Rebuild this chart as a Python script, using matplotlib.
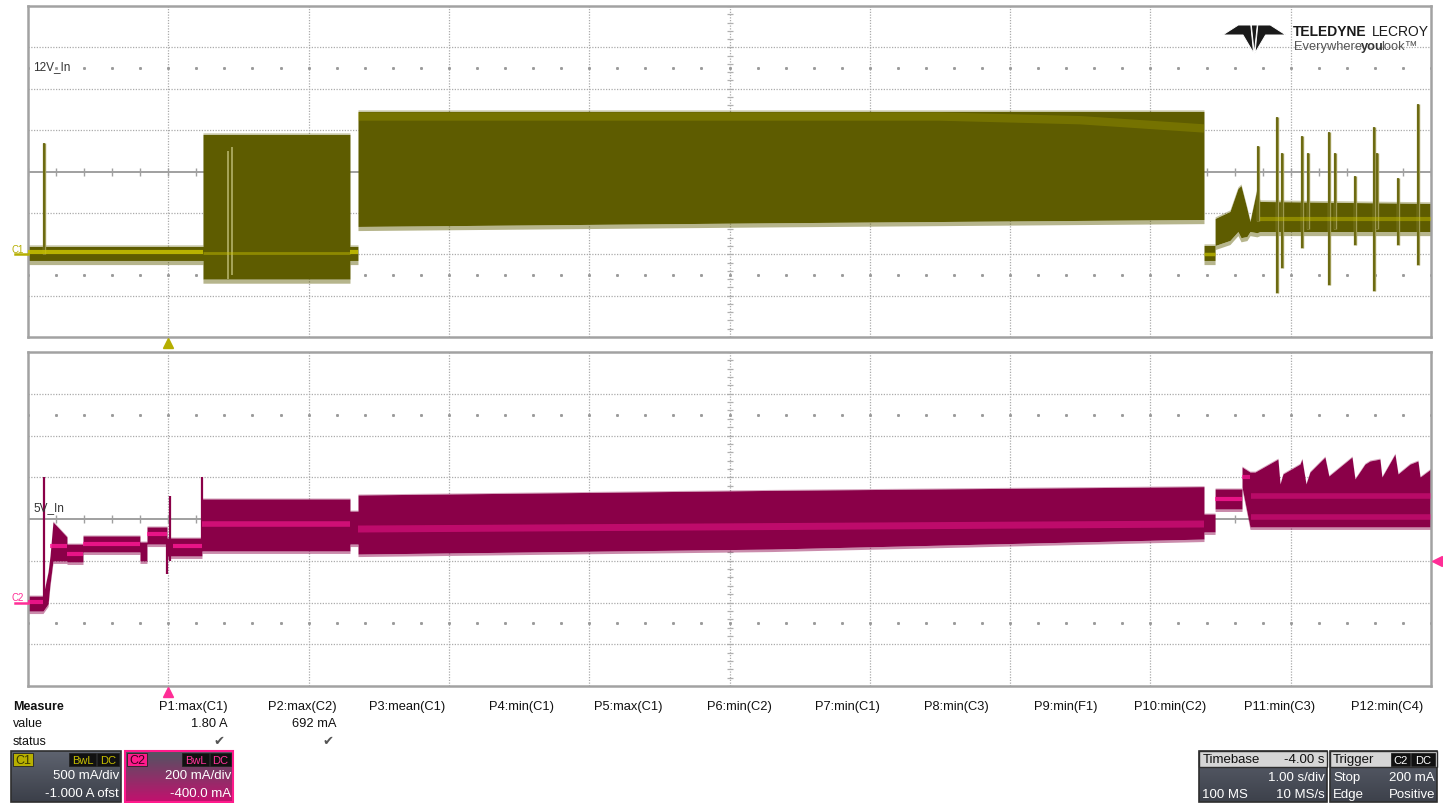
import numpy as np
import matplotlib
matplotlib.use("Agg")
import matplotlib.pyplot as plt
import matplotlib.colors as mcolors
import matplotlib.transforms as mtrans
from matplotlib.patches import Rectangle, Polygon

plt.rcParams['font.family'] = ['Liberation Sans', 'DejaVu Sans']

# time axis: 1.00 s/div, delay -4.00 s
T_MIN, T_MAX = -1.0, 9.0

# C1 (12V_In), 500 mA/div, -1.000 A ofst -> envelope in A
c1_t = [-1.0, 0.247, 0.247, 1.295, 1.295, 1.352, 1.352, 4.3, 7.382, 7.382, 7.461,
        7.461, 7.567, 7.624, 7.646, 7.688, 7.710, 7.760, 7.781, 9.0]
c1_hi = [0.094, 0.094, 1.447, 1.447, 0.094, 0.094, 1.725, 1.725, 1.725, 0.106, 0.106,
         0.432, 0.517, 0.795, 0.83, 0.553, 0.396, 0.795, 0.638, 0.614]
c1_lo = [-0.075, -0.075, -0.30, -0.30, -0.075, -0.075, 0.336, 0.38, 0.42, -0.075, -0.075,
         0.106, 0.167, 0.275, 0.20, 0.215, 0.275, 0.26, 0.275, 0.275]

# bright traces inside C1 envelope (t, value, line width, alpha)
c1_glow_t = [[-1.0, 0.247], [0.247, 1.295], [1.295, 1.352], [1.352, 5.5, 6.5, 7.382],
             [7.382, 7.461], [7.781, 9.0]]
c1_glow_v = [[0.03, 0.03], [0.01, 0.01], [0.03, 0.03], [1.664, 1.664, 1.62, 1.52],
             [0.0, 0.0], [0.432, 0.432]]
c1_glow_w = [3.0, 2.0, 3.0, 6.0, 2.5, 3.0]
c1_glow_a = [0.85, 0.45, 0.85, 0.22, 0.7, 0.45]

# C1 spikes
c1_spk_t = [-0.886, 7.767, 7.903, 7.938, 8.081, 8.123, 8.273, 8.316, 8.458, 8.594, 8.615, 8.765, 8.907]
c1_spk_hi = [1.34, 1.31, 1.66, 1.22, 1.43, 1.22, 1.48, 1.22, 0.95, 1.54, 1.22, 0.92, 1.82]
c1_spk_lo = [0.0, 0.40, -0.47, -0.17, 0.07, 0.30, -0.37, 0.30, 0.11, -0.45, 0.30, 0.11, -0.13]
# light gaps inside the burst
c1_gap_t = [0.425, 0.454]
c1_gap_lo = [-0.30, -0.25]
c1_gap_hi = [1.25, 1.30]

# C2 (5V_In), 200 mA/div, -400.0 mA ofst
c2_t = [-1.0, -0.893, -0.857, -0.843, -0.822, -0.722, -0.722, -0.608, -0.608, -0.202,
        -0.202, -0.152, -0.152, -0.009, -0.009, 0.033, 0.033, 0.240, 0.240, 1.295,
        1.295, 1.352, 1.352, 4.3, 7.382, 7.382, 7.461, 7.461, 7.653, 7.653, 7.710,
        7.746, 7.909, 7.924, 7.945, 8.066, 8.080, 8.109, 8.137, 8.244, 8.272, 8.437,
        8.458, 8.529, 8.565, 8.636, 8.650, 8.743, 8.765, 8.850, 8.907, 8.922, 9.0]
c2_hi = [0.031, 0.031, 0.146, 0.223, 0.386, 0.314, 0.280, 0.280, 0.319, 0.319,
         0.290, 0.290, 0.362, 0.362, 0.309, 0.309, 0.309, 0.309, 0.496, 0.496,
         0.438, 0.438, 0.515, 0.537, 0.555, 0.424, 0.424, 0.544, 0.544, 0.649, 0.625,
         0.625, 0.687, 0.568, 0.616, 0.663, 0.687, 0.568, 0.625, 0.697, 0.606, 0.697,
         0.592, 0.663, 0.678, 0.687, 0.601, 0.711, 0.616, 0.663, 0.678, 0.601, 0.640]
c2_lo = [-0.041, -0.041, -0.007, 0.089, 0.199, 0.199, 0.194, 0.194, 0.242, 0.242,
         0.199, 0.199, 0.280, 0.280, 0.223, 0.223, 0.223, 0.223, 0.247, 0.247,
         0.280, 0.280, 0.232, 0.256, 0.304, 0.338, 0.338, 0.448, 0.448, 0.553, 0.362,
         0.362, 0.362, 0.362, 0.362, 0.362, 0.362, 0.362, 0.362, 0.362, 0.362, 0.362,
         0.362, 0.362, 0.362, 0.362, 0.362, 0.362, 0.362, 0.362, 0.362, 0.362, 0.362]

c2_glow_t = [[-1.0, -0.893], [-0.843, -0.722], [-0.722, -0.608], [-0.608, -0.202],
             [-0.152, -0.009], [0.033, 0.240], [0.240, 1.295], [1.352, 7.382],
             [7.461, 7.653], [7.653, 7.710], [7.72, 9.0], [7.72, 9.0]]
c2_glow_v = [[0.0025, 0.0025], [0.271, 0.271], [0.232, 0.232], [0.280, 0.280],
             [0.328, 0.328], [0.271, 0.271], [0.376, 0.376], [0.352, 0.376],
             [0.496, 0.496], [0.60, 0.60], [0.51, 0.51], [0.41, 0.41]]
c2_glow_w = [3, 3, 3, 3, 3, 3, 4, 5, 3, 3, 4, 4]
c2_glow_a = [0.8, 0.8, 0.8, 0.8, 0.8, 0.8, 0.6, 0.45, 0.8, 0.7, 0.4, 0.4]

c2_spk_t = [-0.886, -0.009, 0.012, 0.240]
c2_spk_hi = [0.60, 0.30, 0.510, 0.60]
c2_spk_lo = [0.0, 0.137, 0.20, 0.25]

# measurement table
meas_names = ["P1:max(C1)", "P2:max(C2)", "P3:mean(C1)", "P4:min(C1)", "P5:max(C1)",
              "P6:min(C2)", "P7:min(C1)", "P8:min(C3)", "P9:min(F1)", "P10:min(C2)",
              "P11:min(C3)", "P12:min(C4)"]
meas_values = ["1.80 A", "692 mA", "", "", "", "", "", "", "", "", "", ""]
meas_status = ["\u2714", "\u2714", "", "", "", "", "", "", "", "", "", ""]

C1_DARK, C1_GLOW, C1_LBL = '#5e5c00', '#c9c200', '#b5ae00'
C2_DARK, C2_GLOW, C2_LBL = '#8a0048', '#ff1a96', '#ff2d96'
GRID = '#ababab'

fig = plt.figure(figsize=(14.43, 8.04), dpi=100)
ax1 = fig.add_axes([28 / 1443, 1 - 338 / 804, 1403 / 1443, 331 / 804])
ax2 = fig.add_axes([28 / 1443, 1 - 687 / 804, 1403 / 1443, 334 / 804])


def setup_panel(ax, ylo, yhi):
    ax.set_xlim(T_MIN, T_MAX)
    ax.set_ylim(ylo, yhi)
    div = (yhi - ylo) / 8
    center = (yhi + ylo) / 2
    for x in np.arange(T_MIN + 1, T_MAX, 1.0):
        ax.axvline(x, color=GRID, lw=0.9, ls=(0, (1, 1.2)), zorder=0)
    for y in np.arange(1, 8) * div + ylo:
        if abs(y - center) > 1e-9:
            ax.axhline(y, color=GRID, lw=0.9, ls=(0, (1, 1.2)), zorder=0)
    ax.axhline(center, color='#a0a0a0', lw=1.4, zorder=0)
    xs = np.arange(T_MIN, T_MAX + 1e-9, 0.2)
    ax.plot(xs, [center] * len(xs), ls='none', marker='|', ms=6, mew=1.0, color='#a0a0a0', zorder=0)
    ys = np.arange(ylo, yhi + 1e-9, div / 5)
    tc = (T_MIN + T_MAX) / 2
    ax.plot([tc] * len(ys), ys, ls='none', marker='_', ms=5, mew=0.9, color='#b0b0b0', zorder=0)
    for yd in (center - 2.5 * div, center + 2.5 * div):
        ax.plot(xs, [yd] * len(xs), ls='none', marker='s', ms=1.1, color='#9a9a9a', zorder=0)
    for s in ax.spines.values():
        s.set_color('#a2a2a2')
        s.set_linewidth(1.8)
    ax.set_xticks([])
    ax.set_yticks([])


def draw_trace(ax, t, lo, hi, dark, fuzz):
    t, lo, hi = np.array(t), np.array(lo), np.array(hi)
    ax.fill_between(t, lo, hi, color=dark, lw=0, zorder=2)
    # soft edges
    ax.fill_between(t, lo - fuzz, lo, color=dark, alpha=0.45, lw=0, zorder=2)
    ax.fill_between(t, hi, hi + fuzz * 0.4, color=dark, alpha=0.35, lw=0, zorder=2)


setup_panel(ax1, -1.0, 3.0)
setup_panel(ax2, -0.4, 1.2)

draw_trace(ax1, c1_t, c1_lo, c1_hi, C1_DARK, 0.05)
draw_trace(ax2, c2_t, c2_lo, c2_hi, C2_DARK, 0.012)

ax1.vlines(c1_gap_t, c1_gap_lo, c1_gap_hi, color='#a8a55a', lw=1.4, zorder=3)
ax1.vlines(c1_spk_t, c1_spk_lo, c1_spk_hi, color='#9c9850', lw=2.4, zorder=3)
ax1.vlines(c1_spk_t, c1_spk_lo, c1_spk_hi, color='#5e5c00', lw=1.1, zorder=3)
ax2.vlines(c2_spk_t, c2_spk_lo, c2_spk_hi, color=C2_DARK, lw=1.6, zorder=3)

for gt, gv, w, a in zip(c1_glow_t, c1_glow_v, c1_glow_w, c1_glow_a):
    ax1.plot(gt, gv, color=C1_GLOW, lw=w, alpha=a, solid_capstyle='butt', zorder=4)
for gt, gv, w, a in zip(c2_glow_t, c2_glow_v, c2_glow_w, c2_glow_a):
    ax2.plot(gt, gv, color=C2_GLOW, lw=w, alpha=a, solid_capstyle='butt', zorder=4)

# channel names
ax1.text(0.0036, 0.819, "12V_In", transform=ax1.transAxes, fontsize=8.5, color='#333333',
         va='center', ha='left', zorder=5)
ax2.text(0.0036, 0.536, "5V_In", transform=ax2.transAxes, fontsize=8.5, color='#333333',
         va='center', ha='left', zorder=5)

# ground markers at left, trigger markers, trigger level
for ax, lbl, col in ((ax1, "C1", C1_LBL), (ax2, "C2", C2_LBL)):
    tr = mtrans.blended_transform_factory(ax.transAxes, ax.transData)
    ax.plot([-0.009, 0.0], [0.0, 0.0], transform=tr, color=col, lw=1.8, clip_on=False, zorder=6)
    ax.text(-0.0115, 0.0, lbl, transform=tr, color=col, fontsize=7, ha='left', va='bottom',
            clip_on=False)
    trx = mtrans.blended_transform_factory(ax.transData, ax.transAxes)
    ax.plot([0.0], [-0.018], transform=trx, marker='^', ms=7, color=col, clip_on=False, zorder=6)
tr2 = mtrans.blended_transform_factory(ax2.transAxes, ax2.transData)
ax2.plot([1.0045], [0.2], transform=tr2, marker='<', ms=7, color=C2_LBL, clip_on=False, zorder=6)

# overlay in pixel coords for the scope UI
ov = fig.add_axes([0, 0, 1, 1])
ov.patch.set_visible(False)
ov.axis('off')


def grad_box(x0, y0, x1, y1, c_top, c_bot, edge='#2e2e2e', lw=1.2):
    ct = np.array(mcolors.to_rgb(c_top))
    cb = np.array(mcolors.to_rgb(c_bot))
    g = np.linspace(0, 1, 64)[:, None, None]
    img = ct * (1 - g) + cb * g
    ov.imshow(img, extent=(x0, x1, y1, y0), aspect='auto', interpolation='bilinear', zorder=2)
    ov.add_patch(Rectangle((x0, y0), x1 - x0, y1 - y0, fill=False, ec=edge, lw=lw, zorder=3))


def tag(x0, y0, w, h, text, fc, tc, fs=8.5):
    ov.add_patch(Rectangle((x0, y0), w, h, fc=fc, ec='#222222', lw=0.6, zorder=4))
    ov.text(x0 + w / 2, y0 + h / 2 + 0.5, text, color=tc, fontsize=fs, ha='center', va='center', zorder=5)


# measure table
ov.text(13, 707, "Measure", fontsize=9, fontweight='bold', va='center', color='#111111')
ov.text(13, 724, "value", fontsize=9, va='center', color='#111111')
ov.text(13, 742, "status", fontsize=9, va='center', color='#111111')
for i, (nm, vl, st) in enumerate(zip(meas_names, meas_values, meas_status)):
    xr = 228 + i * 108.7
    ov.text(xr, 707, nm, fontsize=9.3, ha='right', va='center', color='#111111')
    ov.text(xr, 724, vl, fontsize=9.3, ha='right', va='center', color='#111111')
    ov.text(xr - 3, 742, st, fontsize=9.5, ha='right', va='center', color='#555555',
            family=['DejaVu Sans'])

# C1 box
grad_box(11, 752, 121, 803, '#5e636f', '#3b3f49')
tag(13, 754, 20, 13, "C1", '#b8b000', '#3a3a00', 9)
tag(69, 754, 27, 13, "BwL", '#111111', '#c8c000', 8)
tag(97, 754, 22, 13, "DC", '#111111', '#c8c000', 8)
ov.text(119, 776, "500 mA/div", fontsize=9.5, ha='right', va='center', color='white', zorder=5)
ov.text(119, 794, "-1.000 A ofst", fontsize=9.5, ha='right', va='center', color='white', zorder=5)

# C2 box
grad_box(125, 752, 233, 803, '#505562', '#c3106e', edge='#ff1a8c', lw=1.5)
tag(127, 754, 20, 13, "C2", '#ff1a8c', '#3a0020', 9)
tag(182, 754, 27, 13, "BwL", '#111111', '#ff3399', 8)
tag(210, 754, 21, 13, "DC", '#111111', '#ff3399', 8)
ov.text(231, 776, "200 mA/div", fontsize=9.5, ha='right', va='center', color='white', zorder=5)
ov.text(231, 794, "-400.0 mA", fontsize=9.5, ha='right', va='center', color='white', zorder=5)

# timebase / trigger boxes
for x0, x1 in ((1199, 1327), (1330, 1437)):
    grad_box(x0, 752, x1, 803, '#5a5f6b', '#3d414b')
    ov.add_patch(Rectangle((x0, 752), x1 - x0, 16, fc='#d6d6d6', ec='#2e2e2e', lw=1.0, zorder=3))
ov.text(1203, 760, "Timebase", fontsize=9.5, va='center', color='#111111', zorder=5)
ov.text(1325, 760, "-4.00 s", fontsize=9.5, ha='right', va='center', color='#111111', zorder=5)
ov.text(1325, 778, "1.00 s/div", fontsize=9.5, ha='right', va='center', color='white', zorder=5)
ov.text(1202, 795, "100 MS", fontsize=9.5, va='center', color='white', zorder=5)
ov.text(1325, 795, "10 MS/s", fontsize=9.5, ha='right', va='center', color='white', zorder=5)
ov.text(1333, 760, "Trigger", fontsize=9.5, va='center', color='#111111', zorder=5)
tag(1391, 754, 19, 13, "C2", '#111111', 'white', 8)
tag(1411, 754, 24, 13, "DC", '#111111', 'white', 8)
ov.text(1333, 778, "Stop", fontsize=9.5, va='center', color='white', zorder=5)
ov.text(1435, 778, "200 mA", fontsize=9.5, ha='right', va='center', color='white', zorder=5)
ov.text(1333, 795, "Edge", fontsize=9.5, va='center', color='white', zorder=5)
ov.text(1435, 795, "Positive", fontsize=9.5, ha='right', va='center', color='white', zorder=5)

# logo
for pts in ([(1222.7, 36), (1238.3, 26), (1250.8, 26), (1253.6, 54), (1243, 36)],
            [(1251.3, 26), (1257.3, 26), (1254.3, 55)],
            [(1285.9, 36), (1270.3, 26), (1257.8, 26), (1255.0, 54), (1265.6, 36)]):
    ov.add_patch(Polygon(pts, closed=True, fc='#1a1a1a', ec='white', lw=0.7, zorder=5))
ov.text(1293, 32, "TELEDYNE", fontsize=10, fontweight='bold', va='center', color='#1a1a1a')
ov.text(1372, 32, "LECROY", fontsize=10, va='center', color='#1a1a1a')
ov.text(1294, 47, "Everywhere", fontsize=9.3, va='center', color='#555555')
ov.text(1361, 47, "you", fontsize=9.3, fontweight='bold', va='center', color='#333333')
ov.text(1381.5, 47, "look\u2122", fontsize=9.3, va='center', color='#555555')

ov.set_xlim(0, 1443)
ov.set_ylim(804, 0)

fig.savefig("out.png", dpi=100, facecolor='white')
